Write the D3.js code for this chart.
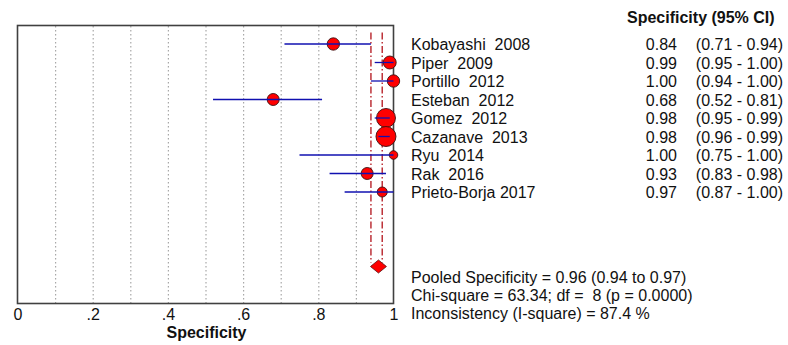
<!DOCTYPE html>
<html>
<head>
<meta charset="utf-8">
<script src="https://cdn.jsdelivr.net/npm/d3@7/dist/d3.min.js"></script>
<style>
  body { margin: 0; background: #fff; }
  svg { display: block; font-family: Arial, "Liberation Sans", sans-serif; }
</style>
</head>
<body>
<div id="chart"></div>
<script>
// study data
const studies = ["Kobayashi  2008", "Piper  2009", "Portillo  2012", "Esteban  2012", "Gomez  2012",
                 "Cazanave  2013", "Ryu  2014", "Rak  2016", "Prieto-Borja 2017"];
const spec  = [0.84, 0.99, 1.00, 0.68, 0.98, 0.98, 1.00, 0.93, 0.97];
const lower = [0.71, 0.95, 0.94, 0.52, 0.95, 0.96, 0.75, 0.83, 0.87];
const upper = [0.94, 1.00, 1.00, 0.81, 0.99, 0.99, 1.00, 0.98, 1.00];
// relative study weights (%)
const weights = [9.0, 9.9, 9.0, 8.5, 21.3, 23.6, 4.3, 8.5, 5.9];

const pooled = 0.96, pooledLo = 0.94, pooledHi = 0.97;
const xTicks = [0, 0.2, 0.4, 0.6, 0.8, 1];
const gridTicks = [0.1, 0.2, 0.3, 0.4, 0.5, 0.6, 0.7, 0.8, 0.9];
const footer = ["Pooled Specificity = 0.96 (0.94 to 0.97)",
                "Chi-square = 63.34; df =  8 (p = 0.0000)",
                "Inconsistency (I-square) = 87.4 %"];

const W = 788, H = 345;
const box = { left: 17.5, right: 393.5, top: 25.5, bottom: 303.5 };
const FS = 16;
// keep double spaces visible
const keep = s => s.replace(/  /g, "\u00a0 ");

const svg = d3.select("#chart").append("svg").attr("width", W).attr("height", H);
svg.append("rect").attr("width", W).attr("height", H).attr("fill", "#fff");

const x = d3.scaleLinear().domain([0, 1]).range([box.left, box.right]);
const y = d3.scalePoint().domain(studies).range([44, 192]);
const pooledY = 266.5;
const r = d3.scaleSqrt().domain([0, d3.max(weights)]).range([0, 10]);

const rows = studies.map((s, i) => ({ name: s, est: spec[i], lo: lower[i], hi: upper[i], w: weights[i] }));

// dotted grid
svg.append("g")
    .attr("transform", `translate(0,${box.bottom})`)
    .call(d3.axisBottom(x).tickValues(gridTicks).tickSize(-(box.bottom - box.top)).tickFormat(""))
    .call(g => g.select(".domain").remove())
    .call(g => g.selectAll("line").attr("stroke", "#a8a8a8").attr("stroke-width", 1.2).attr("stroke-dasharray", "1.5,2.5"));

// pooled CI reference lines
svg.selectAll(".ref").data([pooledLo, pooledHi]).join("line")
    .attr("x1", d => x(d)).attr("x2", d => x(d))
    .attr("y1", 32.5).attr("y2", pooledY - 4)
    .attr("stroke", "#b8232b").attr("stroke-width", 1.4)
    .attr("stroke-dasharray", "7,2.5,1.5,2.5");

// box
svg.append("rect")
    .attr("x", box.left).attr("y", box.top)
    .attr("width", box.right - box.left).attr("height", box.bottom - box.top)
    .attr("fill", "none").attr("stroke", "#404040").attr("stroke-width", 1.6);

// markers
svg.selectAll(".pt").data(rows).join("circle")
    .attr("cx", d => x(d.est)).attr("cy", d => y(d.name)).attr("r", d => r(d.w))
    .attr("fill", "#ff0000").attr("stroke", "#3a1010").attr("stroke-width", 0.9);

// confidence intervals
svg.selectAll(".ci").data(rows).join("line")
    .attr("x1", d => x(d.lo)).attr("x2", d => x(d.hi))
    .attr("y1", d => y(d.name)).attr("y2", d => y(d.name))
    .attr("stroke", "#1010b0").attr("stroke-width", 1.3);

// pooled diamond
const cx = x(pooled);
svg.append("path")
    .attr("d", `M${cx - 8},${pooledY} L${cx},${pooledY - 6.5} L${cx + 8},${pooledY} L${cx},${pooledY + 6.5} Z`)
    .attr("fill", "#ff0000").attr("stroke", "#5a1010").attr("stroke-width", 0.8);

// x axis labels
svg.append("g")
    .attr("transform", `translate(0,${box.bottom})`)
    .call(d3.axisBottom(x).tickValues(xTicks).tickSize(0).tickPadding(5)
        .tickFormat(d => d === 0 ? "0" : d === 1 ? "1" : d3.format(".1f")(d).replace(/^0/, "")))
    .call(g => g.select(".domain").remove())
    .call(g => g.selectAll("text").attr("font-size", FS).attr("fill", "#111")
        .attr("font-family", "Arial, 'Liberation Sans', sans-serif"));

svg.append("text").attr("x", (box.left + box.right) / 2 + 1).attr("y", 338)
    .attr("text-anchor", "middle").attr("font-size", FS).attr("font-weight", "bold").attr("fill", "#111")
    .text("Specificity");

// right-hand table
svg.append("text").attr("x", 627).attr("y", 23)
    .attr("font-size", FS).attr("font-weight", "bold").attr("fill", "#111")
    .text("Specificity (95% CI)");

const fmt = d3.format(".2f");
const tbl = svg.append("g").attr("font-size", FS).attr("fill", "#111");
tbl.selectAll(".lab").data(rows).join("text")
    .attr("x", 411).attr("y", d => y(d.name) + 6).text(d => keep(d.name));
tbl.selectAll(".val").data(rows).join("text")
    .attr("x", 677).attr("y", d => y(d.name) + 6).attr("text-anchor", "end").text(d => fmt(d.est));
tbl.selectAll(".cit").data(rows).join("text")
    .attr("x", 783).attr("y", d => y(d.name) + 6).attr("text-anchor", "end")
    .text(d => `(${fmt(d.lo)} - ${fmt(d.hi)})`);

tbl.selectAll(".foot").data(footer).join("text")
    .attr("x", 411).attr("y", (d, i) => 283 + i * 18).text(d => keep(d));
</script>
</body>
</html>
